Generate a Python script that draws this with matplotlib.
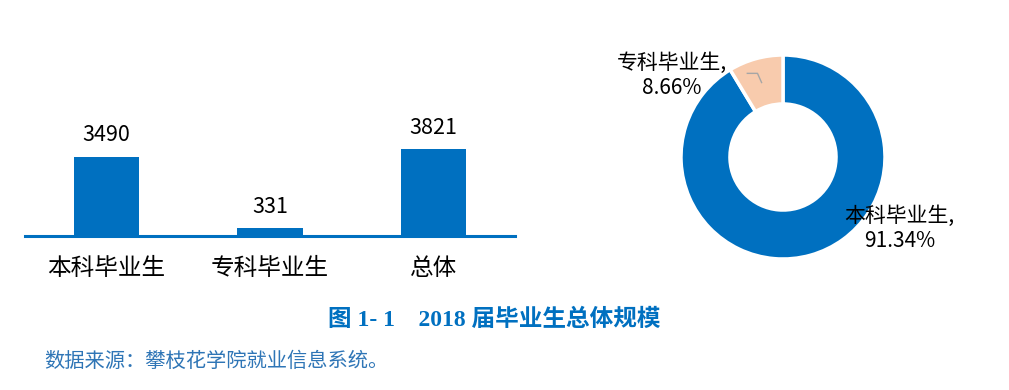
import matplotlib
matplotlib.use("Agg")
import matplotlib.pyplot as plt

plt.rcParams['font.family'] = ['Noto Sans CJK SC', 'DejaVu Sans']

# bar data
categories = ['本科毕业生', '专科毕业生', '总体']
counts = [3490, 331, 3821]

# donut data
pie_labels = ['本科毕业生', '专科毕业生']
pie_pcts = [91.34, 8.66]

blue = '#0070C0'
peach = '#F8CBAD'

W, H = 1009, 390
fig = plt.figure(figsize=(W / 100, H / 100), dpi=100)

def px_axes(x0, y0, x1, y1):
    # pixel box (top-left origin) -> figure axes
    return fig.add_axes([x0 / W, 1 - y1 / H, (x1 - x0) / W, (y1 - y0) / H])

# bar chart
ax = px_axes(25, 31, 515, 236)
xs = range(len(categories))
ax.bar(xs, counts, width=0.4, color=blue)
for x, v in zip(xs, counts):
    ax.text(x, v + 450, str(v), ha='center', va='bottom', fontsize=15.5)
ax.set_xlim(-0.5, 2.5)
ax.set_ylim(0, 9000)
for s in ['top', 'right', 'left']:
    ax.spines[s].set_visible(False)
ax.spines['bottom'].set_color(blue)
ax.spines['bottom'].set_linewidth(2.2)
ax.set_yticks([])
ax.set_xticks(list(xs))
ax.set_xticklabels(categories, fontsize=17)
ax.tick_params(axis='x', length=0, pad=15)

# donut chart
ax2 = px_axes(681, 55, 885, 259)
wedges, _ = ax2.pie(pie_pcts, colors=[blue, peach], startangle=90, counterclock=False,
                    radius=1, wedgeprops=dict(width=0.48, edgecolor='white', linewidth=2.5))
ax2.set_aspect('equal')
ax2.set_xlim(-1, 1)
ax2.set_ylim(-1, 1)

# labels placed outside slices
ax2.text(1.14, -0.70, f'{pie_labels[0]},\n{pie_pcts[0]:.2f}%', ha='center', va='center',
         fontsize=15, linespacing=1.2, clip_on=False)
ax2.text(-1.09, 0.80, f'{pie_labels[1]},\n{pie_pcts[1]:.2f}%', ha='center', va='center',
         fontsize=15, linespacing=1.2, clip_on=False)
ax2.plot([-0.35, -0.25, -0.21], [0.82, 0.82, 0.73], color='#A6A6A6', lw=1)

# caption
fig.text(494 / W, 1 - 320 / H, '图 1- 1    2018 届毕业生总体规模', ha='center', va='center',
         fontsize=17, fontweight='bold', color=blue,
         family=['Liberation Serif', 'Noto Sans CJK SC'])
fig.text(44 / W, 1 - 361 / H, '数据来源：攀枝花学院就业信息系统。', ha='left', va='center',
         fontsize=14.6, color='#2E75B6')

fig.savefig('out.png', dpi=100)
